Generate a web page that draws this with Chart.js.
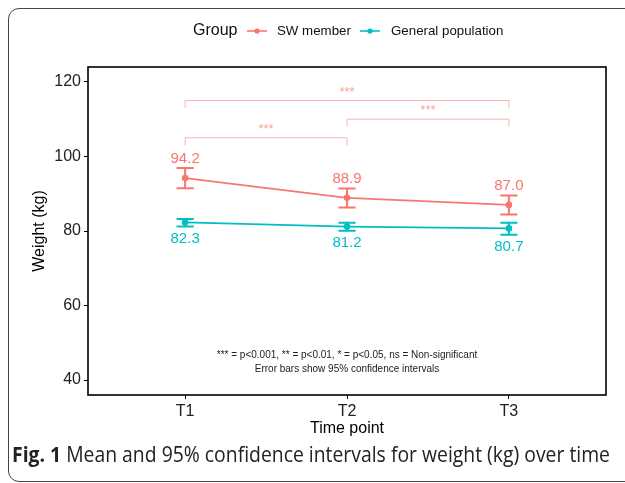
<!DOCTYPE html>
<html><head><meta charset="utf-8">
<script src="https://cdn.jsdelivr.net/npm/chart.js@4.4.0/dist/chart.umd.min.js"></script>
<style>
html,body{margin:0;padding:0;background:#fff;width:625px;height:483px;overflow:hidden;}
#frame{position:absolute;left:8px;top:8px;width:660px;height:474px;border:1.5px solid #444;border-radius:11px;box-sizing:border-box;}
#wrap{position:absolute;left:0;top:0;width:625px;height:483px;}
#caption{position:absolute;left:12px;top:444px;font-family:'Open Sans';font-size:21px;line-height:20px;white-space:nowrap;color:#222;transform-origin:0 0;}
</style></head>
<body>
<div id="frame"></div>
<div id="wrap"><canvas id="c" width="625" height="483"></canvas></div>
<div id="caption"><b>Fig. 1</b> Mean and 95% confidence intervals for weight (kg) over time</div>
<script>
const categories = ['T1', 'T2', 'T3'];
const swMean  = [94.2, 88.9, 87.0];
const swLower = [91.5, 86.3, 84.4];
const swUpper = [96.9, 91.4, 89.5];
const gpMean  = [82.3, 81.2, 80.7];
const gpLower = [81.2, 80.1, 79.0];
const gpUpper = [83.2, 82.2, 82.2];
const yTicks = [40, 60, 80, 100, 120];
const brackets = [
  {from: 0, to: 2, y: 115, label: '***'},
  {from: 1, to: 2, y: 110, label: '***'},
  {from: 0, to: 1, y: 105, label: '***'}
];
const SW = '#F8766D', GP = '#00BFC4';
const FONT = 'Liberation Sans, Arial, sans-serif';

const groups = [
  {name: 'SW member', color: SW, mean: swMean, lo: swLower, hi: swUpper, above: true},
  {name: 'General population', color: GP, mean: gpMean, lo: gpLower, hi: gpUpper, above: false}
];

const extras = {
  id: 'extras',
  beforeDatasetsDraw(chart) {
    const {ctx, scales: {x, y}} = chart;
    ctx.save();
    // brackets
    ctx.strokeStyle = 'rgba(248,118,109,0.55)';
    ctx.fillStyle = 'rgba(248,118,109,0.7)';
    ctx.lineWidth = 1;
    ctx.font = '13px ' + FONT;
    ctx.textAlign = 'center';
    ctx.textBaseline = 'alphabetic';
    brackets.forEach(b => {
      const x1 = x.getPixelForValue(b.from + 1), x2 = x.getPixelForValue(b.to + 1);
      const yy = y.getPixelForValue(b.y), yd = y.getPixelForValue(b.y - 2);
      ctx.beginPath();
      ctx.moveTo(x1, yd); ctx.lineTo(x1, yy); ctx.lineTo(x2, yy); ctx.lineTo(x2, yd);
      ctx.stroke();
      ctx.fillText(b.label, (x1 + x2) / 2, yy - 5);
    });
    // error bars
    const half = x.getPixelForValue(1.053) - x.getPixelForValue(1);
    groups.forEach(g => {
      ctx.strokeStyle = g.color;
      ctx.lineWidth = 2;
      g.mean.forEach((m, i) => {
        const px = x.getPixelForValue(i + 1);
        const pl = y.getPixelForValue(g.lo[i]), ph = y.getPixelForValue(g.hi[i]);
        ctx.beginPath();
        ctx.moveTo(px, pl); ctx.lineTo(px, ph);
        ctx.moveTo(px - half, pl); ctx.lineTo(px + half, pl);
        ctx.moveTo(px - half, ph); ctx.lineTo(px + half, ph);
        ctx.stroke();
      });
    });
    ctx.restore();
  },
  afterDatasetsDraw(chart) {
    const {ctx, scales: {x, y}, chartArea: a} = chart;
    ctx.save();
    ctx.font = '15px ' + FONT;
    ctx.textAlign = 'center';
    ctx.textBaseline = 'middle';
    groups.forEach(g => {
      ctx.fillStyle = g.color;
      g.mean.forEach((m, i) => {
        const px = x.getPixelForValue(i + 1);
        const py = g.above ? y.getPixelForValue(g.hi[i]) - 9.5 : y.getPixelForValue(g.lo[i]) + 12;
        ctx.fillText(m.toFixed(1), px, py);
      });
    });
    // footnote
    ctx.fillStyle = '#222';
    ctx.font = '10px ' + FONT;
    const cx = x.getPixelForValue(2);
    ctx.fillText('*** = p<0.001, ** = p<0.01, * = p<0.05, ns = Non-significant', cx, a.bottom - 40);
    ctx.fillText('Error bars show 95% confidence intervals', cx, a.bottom - 26);
    // panel border
    ctx.strokeStyle = '#000';
    ctx.lineWidth = 1.6;
    ctx.strokeRect(a.left, a.top, a.right - a.left, a.bottom - a.top);
    // legend
    ctx.textAlign = 'left';
    ctx.fillStyle = '#111';
    ctx.font = '16px ' + FONT;
    ctx.fillText('Group', 193, 31);
    const items = [{g: groups[0], x0: 247, tx: 277}, {g: groups[1], x0: 360, tx: 391}];
    items.forEach(it => {
      ctx.strokeStyle = it.g.color; ctx.fillStyle = it.g.color; ctx.lineWidth = 1.6;
      ctx.beginPath(); ctx.moveTo(it.x0, 31); ctx.lineTo(it.x0 + 20, 31); ctx.stroke();
      ctx.beginPath(); ctx.arc(it.x0 + 10, 31, 2.6, 0, Math.PI * 2); ctx.fill();
      ctx.fillStyle = '#111';
      ctx.font = '13.3px ' + FONT;
      ctx.fillText(it.g.name, it.tx, 31);
    });
    ctx.restore();
  }
};

new Chart(document.getElementById('c'), {
  type: 'line',
  data: {
    datasets: groups.map(g => ({
      label: g.name,
      data: g.mean.map((v, i) => ({x: i + 1, y: v})),
      borderColor: g.color,
      backgroundColor: g.color,
      borderWidth: 1.7,
      pointRadius: 3.3,
      pointBorderWidth: 0,
      pointBackgroundColor: g.color,
      tension: 0
    }))
  },
  options: {
    responsive: false,
    animation: false,
    layout: {padding: {top: 67, right: 19, bottom: 38, left: 0}},
    plugins: {legend: {display: false}, tooltip: {enabled: false}},
    scales: {
      x: {
        type: 'linear', min: 0.4, max: 3.6,
        afterBuildTicks: s => { s.ticks = categories.map((c, i) => ({value: i + 1})); },
        afterFit: s => { s.height = 50; },
        ticks: {callback: v => categories[Math.round(v) - 1] || '', font: {family: FONT, size: 16}, color: '#222', padding: 3, maxRotation: 0, autoSkip: false},
        grid: {display: true, drawOnChartArea: false, drawTicks: true, tickLength: 4, color: '#000', lineWidth: 1},
        border: {display: false},
        title: {display: true, text: 'Time point', font: {family: FONT, size: 16}, color: '#000', padding: {top: 0, bottom: 7}}
      },
      y: {
        min: 36, max: 124,
        afterBuildTicks: s => { s.ticks = yTicks.map(v => ({value: v})); },
        afterFit: s => { s.width = 88; },
        ticks: {font: {family: FONT, size: 16}, color: '#222', padding: 3},
        grid: {display: true, drawOnChartArea: false, drawTicks: true, tickLength: 4, color: '#000', lineWidth: 1},
        border: {display: false},
        title: {display: true, text: 'Weight (kg)', font: {family: FONT, size: 16}, color: '#000', padding: {top: 30, bottom: 0}}
      }
    }
  },
  plugins: [extras]
});

const cap = document.getElementById('caption');
const w = cap.getBoundingClientRect().width;
cap.style.transform = 'scaleX(' + (598 / w) + ')';
</script>
</body></html>
